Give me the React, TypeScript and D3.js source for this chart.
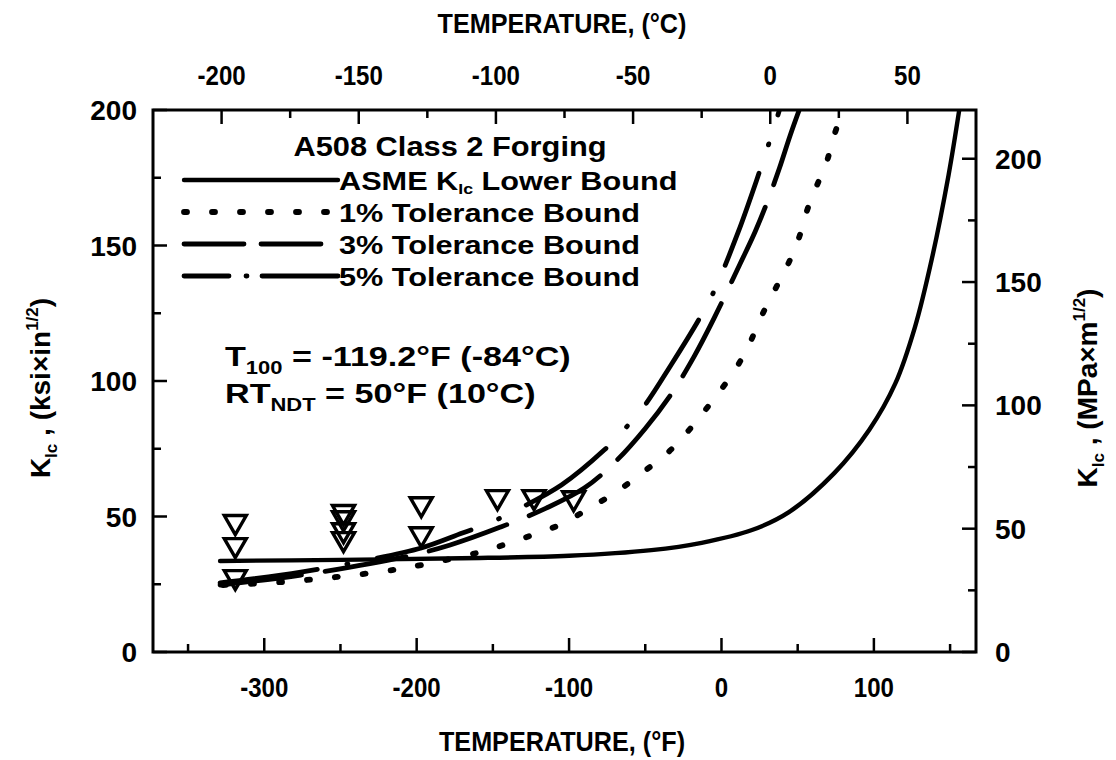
import React from 'react';
import * as d3 from 'd3';

// ---------- data ----------
// Temperatures in °F, K_Ic in ksi·in^1/2
const asmeT = [-329, -250, -171, -100, -46, -13, 20, 44, 74, 97, 114, 127, 138, 149, 156];
const asmeK = [33.6, 34.0, 34.6, 35.5, 37.6, 40.3, 45.0, 51.5, 66.0, 82.0, 99.0, 120.0, 145.0, 176.0, 200.0];

const tol1T = [-327, -289, -252, -215, -197, -161, -143, -124, -105, -87.5, -70, -53, -34, -18, -4.6, 8, 18, 26, 35, 44, 51, 56, 62.5, 69, 74, 80];
const tol1K = [24.7, 25.8, 27.7, 30.3, 32.1, 36.5, 39.5, 43.2, 47.2, 52.8, 58.7, 65.7, 74.2, 84.1, 93.7, 103.3, 113.3, 123.6, 133.6, 143.5, 153.1, 162.7, 172.0, 180.8, 190.8, 200.0];

const tol3T = [-329, -276, -208, -178, -145, -115, -90, -70, -50, -32, -18, -5, 12, 22, 30, 38, 45, 51];
const tol3K = [24.7, 28.4, 35.1, 39.5, 46.1, 53.1, 60.5, 70.0, 82.5, 96.0, 109.0, 123.0, 143.0, 155.0, 166.0, 178.5, 190.5, 200.0];

const tol5T = [-329, -276, -232, -197, -170, -155, -137, -105, -77, -64, -51, -33, -14.5, -5, 11, 23, 28, 34, 38];
const tol5K = [25.5, 29.5, 34.0, 38.4, 43.9, 46.9, 51.7, 61.6, 74.5, 82.0, 90.5, 106.0, 123.0, 133.0, 155.0, 174.0, 182.5, 192.5, 200.0];

// test data (open inverted triangles)
const testT = [-319, -319, -319, -248, -248, -248, -248, -197, -197, -147, -123, -97];
const testK = [48.0, 39.5, 27.7, 51.7, 49.4, 45.0, 41.7, 54.6, 43.5, 57.2, 57.2, 56.8];

// axes
const tempDomainC = [-225, 75];
const kDomainKsi = [0, 200];
const KSI_TO_MPA = 1.0988;
const fTicksMajor = [-300, -200, -100, 0, 100];
const fTicksMinor = [-350, -250, -150, -50, 50, 150];
const cTicksMajor = [-200, -150, -100, -50, 0, 50];
const cTicksMinor = [-175, -125, -75, -25, 25];
const ksiTicksMajor = [0, 50, 100, 150, 200];
const ksiTicksMinor = [25, 75, 125, 175];
const mpaTicksMajor = [0, 50, 100, 150, 200];
const mpaTicksMinor = [25, 75, 125, 175];

const legendTitle = 'A508 Class 2 Forging';
const legendLabels = ['1% Tolerance Bound', '3% Tolerance Bound', '5% Tolerance Bound'];

// ---------- layout ----------
const W = 1116, H = 760;
const M = { left: 153, right: 976, top: 110, bottom: 652 };
const FONT = "'Liberation Sans', Arial, Helvetica, sans-serif";

const cToF = (c: number) => c * 1.8 + 32;
const zip = (a: number[], b: number[]) => a.map((v, i) => [v, b[i]] as [number, number]);

export default function App() {
  const x = d3.scaleLinear().domain([cToF(tempDomainC[0]), cToF(tempDomainC[1])]).range([M.left, M.right]);
  const xC = d3.scaleLinear().domain(tempDomainC).range([M.left, M.right]);
  const y = d3.scaleLinear().domain(kDomainKsi).range([M.bottom, M.top]);
  const yR = d3.scaleLinear().domain([0, kDomainKsi[1] * KSI_TO_MPA]).range([M.bottom, M.top]);

  const line = d3.line<[number, number]>().x(d => x(d[0])).y(d => y(d[1])).curve(d3.curveCatmullRom.alpha(0.5));

  const series = [
    { d: zip(asmeT, asmeK), dash: undefined as string | undefined, w: 4.4 },
    { d: zip(tol1T, tol1K), dash: '3 25', w: 5.8 },
    { d: zip(tol3T, tol3K), dash: '82 24', w: 4.8 },
    { d: zip(tol5T, tol5K), dash: '98 30 1 30', w: 4.8 },
  ];
  const legendDash = [undefined, '3 25', '60 17', '45 17 1 15 80'];
  const legendW = [4.4, 5.8, 4.8, 4.8];

  const tri = d3.symbol().type(d3.symbolTriangle).size(210)() as string;

  const legendRowsY = [180, 212, 244, 276];

  return (
    <svg width={W} height={H} style={{ position: 'absolute', left: 0, top: 0, background: '#fff' }}
      fontFamily={FONT}>
      <rect x={0} y={0} width={W} height={H} fill="#fff" />
      <defs>
        <clipPath id="plotclip">
          <rect x={M.left} y={M.top} width={M.right - M.left} height={M.bottom - M.top} />
        </clipPath>
      </defs>

      {/* frame */}
      <rect x={M.left} y={M.top} width={M.right - M.left} height={M.bottom - M.top} fill="none" stroke="#000" strokeWidth={3} />

      {/* bottom ticks (°F) */}
      {fTicksMajor.map(t => <line key={'fb' + t} x1={x(t)} x2={x(t)} y1={M.bottom} y2={M.bottom - 14} stroke="#000" strokeWidth={2.5} />)}
      {fTicksMinor.filter(t => x(t) < M.right).map(t => <line key={'fbm' + t} x1={x(t)} x2={x(t)} y1={M.bottom} y2={M.bottom - 8} stroke="#000" strokeWidth={2.5} />)}
      {fTicksMajor.map(t => (
        <g key={'fl' + t} transform={`translate(${x(t)},${697}) scale(0.86,1)`}>
          <text x={0} y={0} textAnchor="middle" fontSize={28} fontWeight="bold">{t < 0 ? '-' + Math.abs(t) : String(t)}</text>
        </g>
      ))}

      {/* top ticks (°C) */}
      {cTicksMajor.map(t => <line key={'ct' + t} x1={xC(t)} x2={xC(t)} y1={M.top} y2={M.top + 14} stroke="#000" strokeWidth={2.5} />)}
      {cTicksMinor.map(t => <line key={'ctm' + t} x1={xC(t)} x2={xC(t)} y1={M.top} y2={M.top + 8} stroke="#000" strokeWidth={2.5} />)}
      {cTicksMajor.map(t => (
        <g key={'cl' + t} transform={`translate(${xC(t)},${85}) scale(0.86,1)`}>
          <text x={0} y={0} textAnchor="middle" fontSize={28} fontWeight="bold">{t < 0 ? '-' + Math.abs(t) : String(t)}</text>
        </g>
      ))}

      {/* left ticks (ksi) */}
      {ksiTicksMajor.map(t => <line key={'kl' + t} x1={M.left} x2={M.left + 14} y1={y(t)} y2={y(t)} stroke="#000" strokeWidth={2.5} />)}
      {ksiTicksMinor.map(t => <line key={'klm' + t} x1={M.left} x2={M.left + 8} y1={y(t)} y2={y(t)} stroke="#000" strokeWidth={2.5} />)}
      {ksiTicksMajor.map(t => (
        <text key={'klt' + t} x={137} y={y(t) + 10} textAnchor="end" fontSize={28} fontWeight="bold">{t}</text>
      ))}

      {/* right ticks (MPa) */}
      {mpaTicksMajor.map(t => <line key={'mr' + t} x1={M.right} x2={M.right - 14} y1={yR(t)} y2={yR(t)} stroke="#000" strokeWidth={2.5} />)}
      {mpaTicksMinor.map(t => <line key={'mrm' + t} x1={M.right} x2={M.right - 8} y1={yR(t)} y2={yR(t)} stroke="#000" strokeWidth={2.5} />)}
      {mpaTicksMajor.map(t => (
        <text key={'mrt' + t} x={995} y={yR(t) + 10} textAnchor="start" fontSize={28} fontWeight="bold">{t}</text>
      ))}

      {/* axis titles */}
      <g transform={`translate(562,33) scale(0.9,1)`}>
        <text x={0} y={0} textAnchor="middle" fontSize={28} fontWeight="bold">TEMPERATURE, (°C)</text>
      </g>
      <g transform={`translate(562,751) scale(0.9,1)`}>
        <text x={0} y={0} textAnchor="middle" fontSize={28} fontWeight="bold">TEMPERATURE, (°F)</text>
      </g>
      <g transform={`translate(50,388) rotate(-90)`}>
        <text x={0} y={0} textAnchor="middle" fontSize={28} fontWeight="bold">
          K<tspan dy={7} fontSize={17}>Ic</tspan><tspan dy={-7}> , (ksi×in</tspan><tspan dy={-12} fontSize={17}>1/2</tspan><tspan dy={12}>)</tspan>
        </text>
      </g>
      <g transform={`translate(1097,388) rotate(-90)`}>
        <text x={0} y={0} textAnchor="middle" fontSize={28} fontWeight="bold">
          K<tspan dy={7} fontSize={17}>Ic</tspan><tspan dy={-7}> , (MPa×m</tspan><tspan dy={-12} fontSize={17}>1/2</tspan><tspan dy={12}>)</tspan>
        </text>
      </g>

      {/* curves */}
      <g clipPath="url(#plotclip)">
        {series.map((s, i) => (
          <path key={'s' + i} d={line(s.d) as string} fill="none" stroke="#000" strokeWidth={s.w}
            strokeDasharray={s.dash} strokeLinecap="round" strokeLinejoin="round" />
        ))}
      </g>

      {/* test data */}
      {testT.map((t, i) => (
        <path key={'p' + i} d={tri} transform={`translate(${x(t)},${y(testK[i])}) rotate(180)`}
          fill="none" stroke="#000" strokeWidth={3.4} strokeLinejoin="miter" />
      ))}

      {/* legend */}
      <g transform={`translate(450,156) scale(1.1,1)`}>
        <text x={0} y={0} textAnchor="middle" fontSize={28} fontWeight="bold">{legendTitle}</text>
      </g>
      {legendRowsY.map((ly, i) => (
        <g key={'lg' + i}>
          <line x1={184} x2={338} y1={ly} y2={ly} stroke="#000" strokeWidth={legendW[i]}
            strokeDasharray={legendDash[i]} strokeLinecap="round" />
          <g transform={`translate(339,${ly + 10}) scale(1.18,1)`}>
            {i === 0 ? (
              <text x={0} y={0} fontSize={26} fontWeight="bold">ASME K<tspan dy={4} fontSize={15}>Ic</tspan><tspan dy={-4}> Lower Bound</tspan></text>
            ) : (
              <text x={0} y={0} fontSize={26} fontWeight="bold">{legendLabels[i - 1]}</text>
            )}
          </g>
        </g>
      ))}

      {/* annotations */}
      <g transform={`translate(225,366) scale(1.22,1)`}>
        <text x={0} y={0} fontSize={28} fontWeight="bold">T<tspan dy={8} fontSize={18}>100</tspan><tspan dy={-8}> = -119.2°F (-84°C)</tspan></text>
      </g>
      <g transform={`translate(225,403) scale(1.22,1)`}>
        <text x={0} y={0} fontSize={28} fontWeight="bold">RT<tspan dy={8} fontSize={18}>NDT</tspan><tspan dy={-8}> = 50°F (10°C)</tspan></text>
      </g>
    </svg>
  );
}
